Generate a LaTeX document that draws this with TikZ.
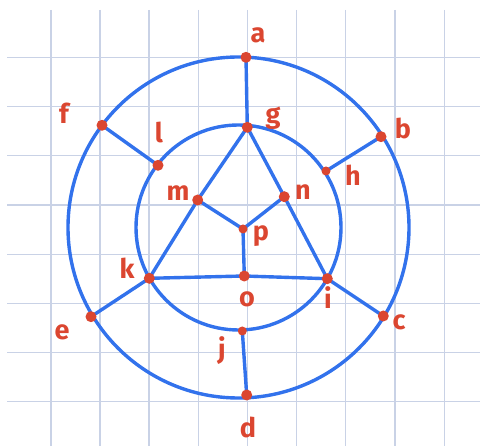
\documentclass[tikz,border=0pt]{standalone}
\usepackage{fontspec}
\setmainfont{Fira Sans}
\definecolor{gridc}{HTML}{C9D2E6}
\definecolor{edgec}{HTML}{3272EC}
\definecolor{dotc}{HTML}{DB4630}
\tikzset{
  gridline/.style={gridc, line width=1.2pt},
  edge/.style={edgec, line width=3.4pt},
  dot/.style={circle, fill=dotc, inner sep=0pt, minimum size=11pt},
  lab/.style={text=dotc, font=\fontsize{27}{27}\selectfont\bfseries, inner sep=0pt}
}
\begin{document}
\begin{tikzpicture}[x=1pt,y=-1pt]
\useasboundingbox (0,0) rectangle (480,446);
% grid
\foreach \gx in {51,100,149,198.3,247.3,296.3,345.7,395,444.3}
  \draw[gridline] (\gx,10) -- (\gx,446);
\foreach \gy in {57.3,106.7,155.7,205,254.3,303.3,352.3,401.7}
  \draw[gridline] (7,\gy) -- (480,\gy);
% centre
\coordinate (C) at (238.5,227.5);
% vertices
\coordinate (a) at (246,57.3);
\coordinate (b) at (381,136.7);
\coordinate (c) at (383.3,316);
\coordinate (d) at (246.7,395);
\coordinate (e) at (91,316.7);
\coordinate (f) at (102,125.3);
\coordinate (g) at (247.3,127.3);
\coordinate (h) at (326,171);
\coordinate (i) at (327.3,278.7);
\coordinate (j) at (242.3,331);
\coordinate (k) at (149.3,278.3);
\coordinate (l) at (158,165.3);
\coordinate (m) at (197.7,200);
\coordinate (n) at (284.3,196.7);
\coordinate (o) at (244.3,276);
\coordinate (p) at (243,229);
% circles
\draw[edge] (C) circle[radius=170.5];
\draw[edge] (C) circle[radius=102.5];
% edges
\draw[edge] (a) -- (g);
\draw[edge] (f) -- (l);
\draw[edge] (b) -- (h);
\draw[edge] (e) -- (k);
\draw[edge] (c) -- (i);
\draw[edge] (d) -- (j);
\draw[edge] (g) -- (m);
\draw[edge] (m) -- (k);
\draw[edge] (g) -- (n);
\draw[edge] (n) -- (i);
\draw[edge] (k) -- (o);
\draw[edge] (o) -- (i);
\draw[edge] (m) -- (p);
\draw[edge] (n) -- (p);
\draw[edge] (p) -- (o);
% dots
\foreach \v in {a,b,c,d,e,f,g,i,k,l,m,n,o}
  \node[dot] (dot\v) at (\v) {};
\foreach \v in {h,j,p}
  \node[dot, minimum size=9pt] (dot\v) at (\v) {};
% labels
\node[lab] (la) at (258,35) {a};
\node[lab] (lb) at (403,128) {b};
\node[lab] (lc) at (399,322) {c};
\node[lab] (ld) at (248,427) {d};
\node[lab] (le) at (62,332) {e};
\node[lab] (lf) at (64,113) {f};
\node[lab] (lg) at (273,118) {g};
\node[lab] (lh) at (353,175) {h};
\node[lab] (li) at (328,298) {i};
\node[lab] (lj) at (222,351) {j};
\node[lab] (lk) at (127,268) {k};
\node[lab] (ll) at (159,132) {l};
\node[lab] (lm) at (178,193) {m};
\node[lab] (ln) at (303,192) {n};
\node[lab] (lo) at (247,299) {o};
\node[lab] (lp) at (261,236) {p};
\end{tikzpicture}
\end{document}
